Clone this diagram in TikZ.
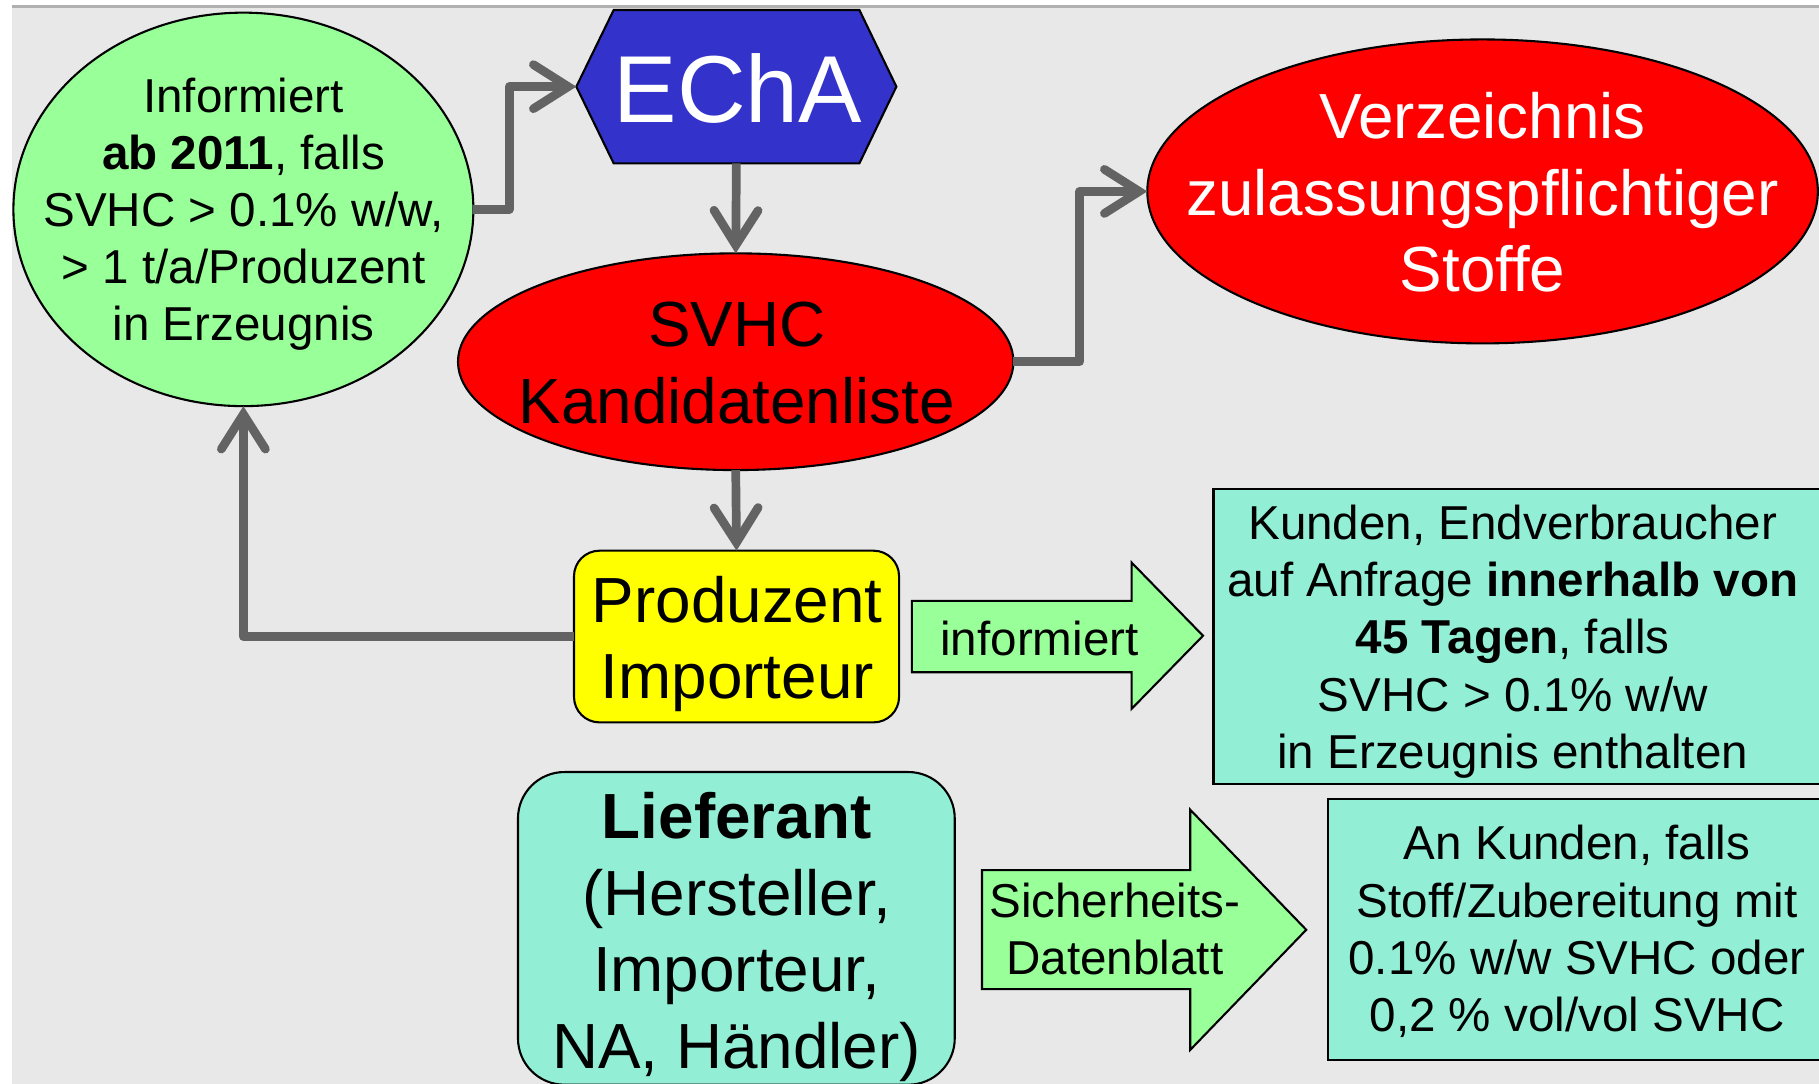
\documentclass[tikz,border=0pt]{standalone}
\usepackage{fontspec}
\setmainfont{Liberation Sans}
\usetikzlibrary{shapes.geometric,arrows.meta}
\definecolor{bgc}{HTML}{E8E8E8}
\definecolor{toplinec}{HTML}{B0B0B0}
\definecolor{conngray}{HTML}{636363}
\definecolor{lgreen}{HTML}{99FF99}
\definecolor{aqua}{HTML}{92EFD6}
\definecolor{echablue}{HTML}{3333CC}
\definecolor{pred}{HTML}{FF0000}
\definecolor{pyellow}{HTML}{FFFF00}
\newcommand{\fsmall}{\fontsize{41}{49.3}\selectfont}
\newcommand{\fbig}{\fontsize{55}{66}\selectfont}
\newcommand{\fhuge}{\fontsize{82}{98}\selectfont}
\begin{document}
\begin{tikzpicture}[x=1pt,y=-1pt,
  conn/.style={draw=conngray, line width=7.5pt, line join=round,
    -{Straight Barb[length=30pt,width=38pt,line cap=round,line join=miter]}},
  border/.style={draw=black, line width=1.8pt},
  txt/.style={align=center, inner sep=0pt},
  ell/.style={ellipse, border, inner sep=0pt, outer sep=0pt}
]
\useasboundingbox (0,0) rectangle (1568,934);
% background
\fill[white] (0,0) rectangle (1568,934);
\fill[bgc] (10.3,6) rectangle (1568,934);
\fill[toplinec] (10.3,4.3) rectangle (1568,6.6);

% green circle
\node[ell, fill=lgreen, minimum width=396.5pt, minimum height=339.2pt] (circ) at (209.8,180.5) {};
\node[txt, font=\fsmall] (circtext) at (210,184.6)
  {Informiert\\\textbf{ab 2011}, falls\\SVHC > 0.1\% w/w,\\> 1 t/a/Produzent\\in Erzeugnis};

% EChA hexagon
\filldraw[fill=echablue, border] (496.8,74.7) -- (529,8.6) -- (740.8,8.6) -- (772.7,74.7) -- (740.8,140.8) -- (529,140.8) -- cycle;
\node[minimum width=275.9pt, minimum height=132.2pt, inner sep=0pt, outer sep=0pt] (echa) at (634.75,74.7) {};
\node[txt, font=\fhuge, text=white] (echatext) at (636,76) {EChA};

% SVHC ellipse
\node[ell, fill=pred, minimum width=478.8pt, minimum height=186.8pt] (svhc) at (634.2,311.8) {};
\node[txt, font=\fbig] (svhctext) at (635,313) {SVHC\\Kandidatenliste};

% Verzeichnis ellipse
\node[ell, fill=pred, minimum width=578pt, minimum height=262pt] (verz) at (1278,165) {};
\node[txt, font=\fbig, text=white] (verztext) at (1278,166) {Verzeichnis\\zulassungspflichtiger\\Stoffe};

% Produzent box
\node[rectangle, rounded corners=22pt, border, fill=pyellow, minimum width=280.2pt, minimum height=148pt, inner sep=0pt, outer sep=0pt] (prod) at (634.9,548.7) {};
\node[txt, font=\fbig] (prodtext) at (635.5,555.3) {Produzent\\Importeur};

% informiert block arrow
\filldraw[fill=lgreen, border] (786,518) -- (975.5,518) -- (975.5,485) -- (1037,548) -- (975.5,611) -- (975.5,579.5) -- (786,579.5) -- cycle;
\node[txt, font=\fsmall] (tinf) at (896,550) {informiert};

% Kunden box
\node[rectangle, border, fill=aqua, minimum width=534pt, minimum height=254.4pt, inner sep=0pt, outer sep=0pt, anchor=north west] (kunden) at (1046,421.6) {};
\node[txt, font=\fsmall] (kundtext) at (1304,553)
  {Kunden, Endverbraucher\\auf Anfrage \textbf{innerhalb von}\\\textbf{45 Tagen}, falls\\SVHC > 0.1\% w/w\\in Erzeugnis enthalten};

% Lieferant box
\node[rectangle, rounded corners=40pt, border, fill=aqua, minimum width=376.5pt, minimum height=269.5pt, inner sep=0pt, outer sep=0pt, anchor=north west] (liefer) at (446.5,665.5) {};
\node[txt, font=\fbig] (liefertext) at (635,807.5) {\textbf{Lieferant}\\(Hersteller,\\Importeur,\\NA, Händler)};

% Sicherheits block arrow
\filldraw[fill=lgreen, border] (846.5,750) -- (1026,750) -- (1026,698) -- (1126,801.5) -- (1026,905) -- (1026,852.6) -- (846.5,852.6) -- cycle;
\node[txt, font=\fsmall] (tsich) at (961,801) {Sicherheits-\\Datenblatt};

% An Kunden box
\node[rectangle, border, fill=aqua, minimum width=440pt, minimum height=225pt, inner sep=0pt, outer sep=0pt, anchor=north west] (ankunden) at (1145,689) {};
\node[txt, font=\fsmall] (ankundtext) at (1359.5,803)
  {An Kunden, falls\\Stoff/Zubereitung mit\\0.1\% w/w SVHC oder\\0,2 \% vol/vol SVHC};

% connectors
\draw[conn] (circ.east) -- ++(31,0) |- (echa.west);
\draw[conn] (echa.south) -- (svhc.north);
\draw[conn] (svhc.east) -- ++(57,0) |- (verz.west);
\draw[conn] (svhc.south) -- (prod.north);
\draw[conn] (prod.west) -| (circ.south);
\end{tikzpicture}
\end{document}
